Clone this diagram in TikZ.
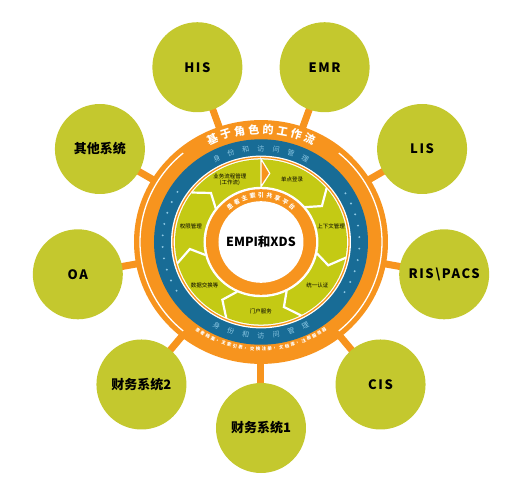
\documentclass[tikz,border=0pt]{standalone}
\usepackage{fontspec}
\setmainfont{Noto Sans CJK SC}
\newfontfamily\cjk{Noto Sans CJK SC}
\newfontfamily\latn[LetterSpace=12]{Noto Sans CJK SC}
\usetikzlibrary{backgrounds}
\definecolor{ygreen}{RGB}{196,200,46}
\definecolor{sgreen}{RGB}{196,202,20}
\definecolor{orng}{RGB}{247,148,30}
\definecolor{blu}{RGB}{24,108,150}
\definecolor{lblu}{RGB}{140,200,228}
\begin{document}
\begin{tikzpicture}[x=1pt,y=1pt,
  sat/.style={circle,fill=ygreen,minimum size=90pt,inner sep=0pt,text=black,font=\cjk\bfseries\fontsize{13}{13}\selectfont},
  conn/.style={orng,line width=7pt},
  chartop/.style={inner sep=0pt,text=white,font=\cjk\bfseries\fontsize{11}{11}\selectfont},
  charblue/.style={inner sep=0pt,text=lblu,font=\cjk\fontsize{7}{7}\selectfont},
  charsmall/.style={inner sep=0pt,text=white,font=\cjk\bfseries\fontsize{4.4}{4.4}\selectfont},
  charinner/.style={inner sep=0pt,text=white,font=\cjk\bfseries\fontsize{6}{6}\selectfont},
  seglabel/.style={inner sep=0pt,align=center,text=black,font=\cjk\fontsize{5.5}{6.5}\selectfont},
  sepline/.style={white,line width=2.2pt,line join=miter}]

\useasboundingbox (-261,-237) rectangle (259,242);
\coordinate (core) at (0,0);

% satellite systems and their connectors
\foreach \a/\t [count=\i] in {110/{\latn HIS},70/{\latn EMR},30/{\latn LIS},-10/{\latn RIS\textbackslash PACS},-50/{\latn CIS},-90/财务系统1,-130/财务系统2,-170/{\latn OA},150/其他系统}{
  \node[sat] (c\i) at (\a:186) {\t};
  \coordinate (r\i) at (\a:118);
  \begin{scope}[on background layer]
    \draw[conn] (r\i) -- (c\i.center);
  \end{scope}
}

\begin{scope}[yscale=0.96]
  % outer orange band
  \fill[orng] (core) circle (127);
  \draw[white,line width=1.3pt] (130:121) arc (130:230:121);
  \draw[white,line width=1.3pt] (-50:121) arc (-50:50:121);
  % blue band
  \fill[blu] (core) circle (107);
  \foreach \a in {148,155,...,213} \fill[lblu] (\a:98.5) circle (1.1);
  \foreach \a in {-32,-25,...,33} \fill[lblu] (\a:98.5) circle (1.1);
  \fill[white] (core) circle (90);
  \draw[orng,line width=1.3pt] (core) circle (88);
  % green cycle
  \fill[sgreen] (core) circle (86);
  \fill[white] (core) circle (57.5);
  \foreach \k in {1,...,6}{
    \pgfmathsetmacro\ph{90-\k*360/7}
    \draw[sepline] ({\ph+2}:86.5) -- ({\ph-7}:71.5) -- ({\ph+1}:57);
  }
  \filldraw[fill=orng,draw=white,line width=1.2pt] (90:86.5) -- (83:72) -- (90:57.5) -- cycle;
  % inner orange ring
  \fill[orng] (core) circle (55);
  \fill[white] (core) circle (42.5);

  % texts on the bands
  \foreach \c [count=\i, evaluate=\i as \a using 90+(4.5-\i)*7.0, evaluate=\i as \r using (4.5-\i)*7.0] in {基,于,角,色,的,工,作,流}
    \node[chartop,rotate=\r] (ta\i) at (\a:117.5) {\c};
  \foreach \c [count=\i, evaluate=\i as \a using 90+(4-\i)*9, evaluate=\i as \r using (4-\i)*9] in {身,份,和,访,问,管,理}
    \node[charblue,rotate=\r] (tb\i) at (\a:97.5) {\c};
  \foreach \c [count=\i, evaluate=\i as \a using -90+(\i-4)*9, evaluate=\i as \r using (\i-4)*9] in {身,份,和,访,问,管,理}
    \node[charblue,rotate=\r] (tc\i) at (\a:97.5) {\c};
  \foreach \c [count=\i, evaluate=\i as \a using -90+(\i-12.5)*3.0, evaluate=\i as \r using (\i-12.5)*3.0] in {患,者,档,案,，,主,索,引,表,，,交,换,注,册,，,文,档,库,，,注,册,服,务,器}
    \node[charsmall,rotate=\r] (td\i) at (\a:111.5) {\c};
  \foreach \c [count=\i, evaluate=\i as \a using 90+(5-\i)*10, evaluate=\i as \r using (5-\i)*10] in {患,者,主,索,引,共,享,平,台}
    \node[charinner,rotate=\r] (te\i) at (\a:48.5) {\c};

  % segment labels
  \foreach \a/\t [count=\i] in {64.3/单点登录,12.9/上下文管理,-38.6/统一认证,-90/门户服务,-141.4/数据交换等,167.1/权限管理,115.7/{业务流程管理\\(工作流)}}
    \node[seglabel] (s\i) at (\a:72) {\t};

  \node[font=\cjk\bfseries\fontsize{12.5}{12.5}\selectfont] (empi) at (core) {EMPI和XDS};
\end{scope}
\end{tikzpicture}
\end{document}
